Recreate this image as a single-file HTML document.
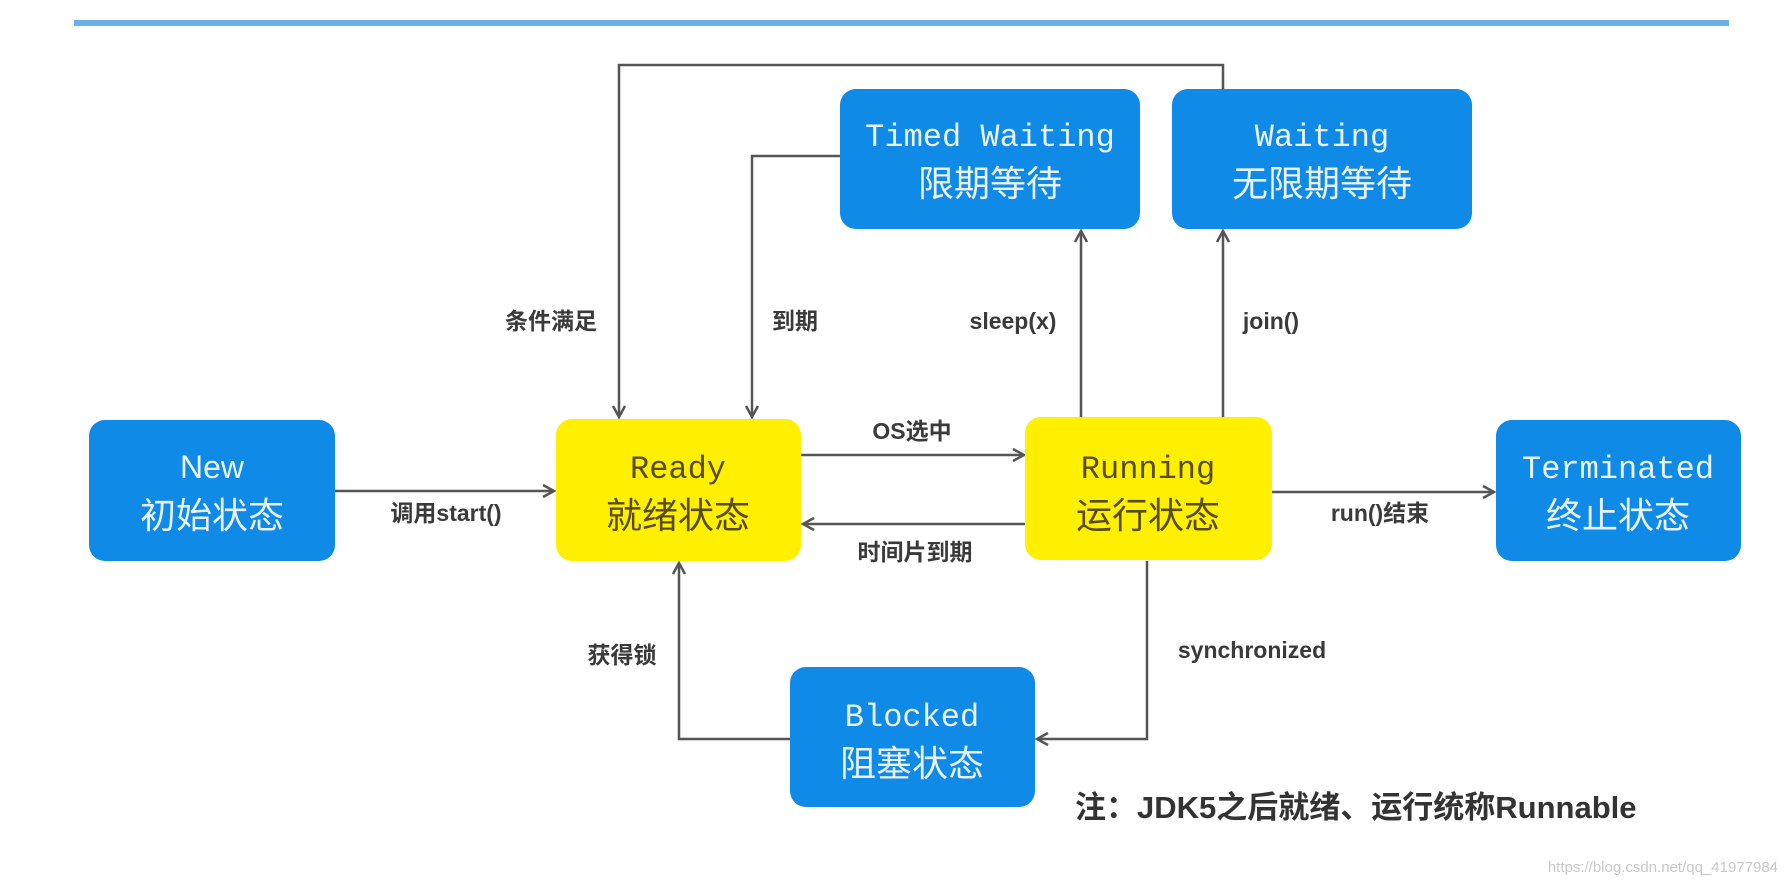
<!DOCTYPE html>
<html><head><meta charset="utf-8"><style>
html,body{margin:0;padding:0;background:#fff;}
svg{display:block}
.lb{font-family:"Liberation Sans","Noto Sans CJK SC",sans-serif;font-weight:bold;font-size:23px;fill:#3a3a3a}
.en{font-family:"Liberation Mono","DejaVu Sans Mono",monospace;font-size:32px}
.cn{font-family:"Liberation Sans","Noto Sans CJK SC",sans-serif;font-size:36px}
</style></head><body>
<svg width="1788" height="892" viewBox="0 0 1788 892" xmlns="http://www.w3.org/2000/svg">
<defs>
<marker id="a" markerWidth="16" markerHeight="16" refX="13" refY="8" orient="auto" markerUnits="userSpaceOnUse">
<path d="M2,2 L13,8 L2,14" fill="none" stroke="#555" stroke-width="2.5"/>
</marker>
</defs>
<rect x="74" y="20" width="1655" height="6" fill="#6cb0ea"/>
<g stroke="#555" stroke-width="2.5" fill="none">
<line x1="335" y1="491" x2="554" y2="491" marker-end="url(#a)"/>
<line x1="801" y1="455" x2="1024" y2="455" marker-end="url(#a)"/>
<line x1="1025" y1="524" x2="803" y2="524" marker-end="url(#a)"/>
<line x1="1272" y1="492" x2="1494" y2="492" marker-end="url(#a)"/>
<polyline points="1223,89 1223,65 619,65 619,417" marker-end="url(#a)"/>
<polyline points="840,156 752,156 752,417" marker-end="url(#a)"/>
<line x1="1081" y1="419" x2="1081" y2="231" marker-end="url(#a)"/>
<line x1="1223" y1="419" x2="1223" y2="231" marker-end="url(#a)"/>
<polyline points="1147,561 1147,739 1037,739" marker-end="url(#a)"/>
<polyline points="790,739 679,739 679,563" marker-end="url(#a)"/>
</g>
<g fill="#0f8ae6">
<rect x="89" y="420" width="246" height="141" rx="16"/>
<rect x="1496" y="420" width="245" height="141" rx="16"/>
<rect x="840" y="89" width="300" height="140" rx="16"/>
<rect x="1172" y="89" width="300" height="140" rx="16"/>
<rect x="790" y="667" width="245" height="140" rx="16"/>
</g>
<g fill="#fff000">
<rect x="556" y="419" width="245" height="142" rx="16"/>
<rect x="1025" y="417" width="247" height="143" rx="16"/>
</g>
<g text-anchor="middle" fill="#e8f3ff">
<text class="en" x="212" y="478" style="font-family:'Liberation Sans',sans-serif">New</text>
<text class="cn" x="212" y="528">初始状态</text>
<text class="en" x="1618" y="478">Terminated</text>
<text class="cn" x="1618" y="528">终止状态</text>
<text class="en" x="990" y="146">Timed Waiting</text>
<text class="cn" x="990" y="196">限期等待</text>
<text class="en" x="1322" y="146">Waiting</text>
<text class="cn" x="1322" y="196">无限期等待</text>
<text class="en" x="912" y="726">Blocked</text>
<text class="cn" x="912" y="776">阻塞状态</text>
</g>
<g text-anchor="middle" fill="#5a4c10">
<text class="en" x="678" y="478">Ready</text>
<text class="cn" x="678" y="528">就绪状态</text>
<text class="en" x="1148" y="478">Running</text>
<text class="cn" x="1148" y="528">运行状态</text>
</g>
<g class="lb" text-anchor="middle">
<text x="446" y="521">调用start()</text>
<text x="912" y="439">OS选中</text>
<text x="915" y="560">时间片到期</text>
<text x="1380" y="521">run()结束</text>
<text x="551" y="329">条件满足</text>
<text x="795" y="329">到期</text>
<text x="1013" y="329">sleep(x)</text>
<text x="1271" y="329">join()</text>
<text x="1252" y="658">synchronized</text>
<text x="622" y="663">获得锁</text>
</g>
<text x="1075" y="818" style="font-family:'Liberation Sans','Noto Sans CJK SC',sans-serif;font-weight:bold;font-size:31px;fill:#333">注：JDK5之后就绪、运行统称Runnable</text>
<text x="1778" y="872" text-anchor="end" style="font-family:'Liberation Sans',sans-serif;font-size:15px;fill:#c8c8c8">https://blog.csdn.net/qq_41977984</text>
</svg>
</body></html>
